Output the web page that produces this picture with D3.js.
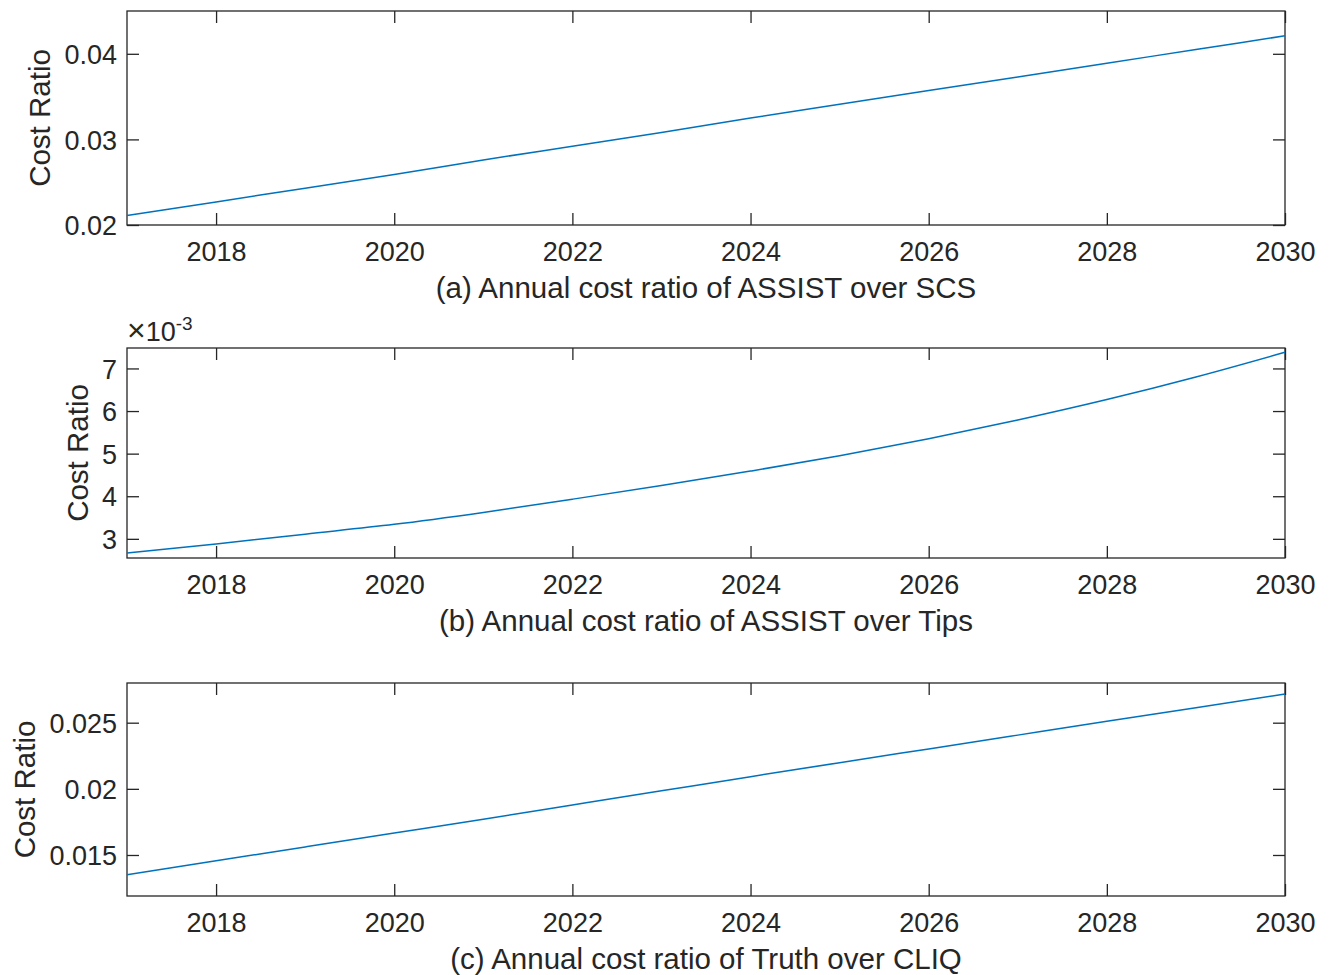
<!DOCTYPE html>
<html>
<head>
<meta charset="utf-8">
<script src="https://cdn.jsdelivr.net/npm/d3@7"></script>
<style>
  html, body { margin: 0; padding: 0; background: #fff; }
  svg { display: block; font-family: "Liberation Sans", Arial, Helvetica, sans-serif; }
</style>
</head>
<body>
<svg id="chart" width="1330" height="975"></svg>
<script>
// Years on the horizontal axis
const years = [2017, 2018, 2019, 2020, 2021, 2022, 2023, 2024, 2025, 2026, 2027, 2028, 2029, 2030];

// Annual cost ratio of ASSIST over SCS
const ratioAssistScs = [0.0211, 0.0227, 0.0243, 0.0259, 0.0276, 0.0292, 0.0308, 0.0325,
                        0.0341, 0.0357, 0.0373, 0.0389, 0.0405, 0.0421];

// Annual cost ratio of ASSIST over Tips
const ratioAssistTips = [0.00267, 0.00288, 0.00311, 0.00334, 0.00362, 0.00393, 0.00425, 0.00459,
                         0.00495, 0.00535, 0.00579, 0.00627, 0.00680, 0.00738];

// Annual cost ratio of Truth over CLIQ
const ratioTruthCliq = [0.01351, 0.01456, 0.01561, 0.01666, 0.01771, 0.01878, 0.01985, 0.02092,
                        0.02198, 0.02302, 0.02406, 0.02510, 0.02613, 0.02717];

const xTicks = [2018, 2020, 2022, 2024, 2026, 2028, 2030];
const yTicksA = [0.02, 0.03, 0.04];
const yTicksB = [0.003, 0.004, 0.005, 0.006, 0.007];
const yTicksC = [0.015, 0.02, 0.025];

const titles = [
  "(a) Annual cost ratio of ASSIST over SCS",
  "(b) Annual cost ratio of ASSIST over Tips",
  "(c) Annual cost ratio of Truth over CLIQ"
];
const yLabel = "Cost Ratio";

const panels = [
  { values: ratioAssistScs,  domain: [0.02, 0.045],     ticks: yTicksA, fmt: d => String(+d.toFixed(3)),        top: 11,  bottom: 225, exp: false },
  { values: ratioAssistTips, domain: [0.00255, 0.00748], ticks: yTicksB, fmt: d => String(Math.round(d * 1000)), top: 348, bottom: 558, exp: true },
  { values: ratioTruthCliq,  domain: [0.0119, 0.028],   ticks: yTicksC, fmt: d => String(+d.toFixed(3)),        top: 683, bottom: 896, exp: false }
];

const left = 127, right = 1285;
const axisColor = "#262626";
const lineColor = "#0072BD";
const tickLen = 12;
const tickFont = 27;
const labelFont = 29.5;

const svg = d3.select("#chart");

const x = d3.scaleLinear().domain([2017, 2030]).range([left, right]);

panels.forEach((p, i) => {
  const y = d3.scaleLinear().domain(p.domain).range([p.bottom, p.top]);
  const g = svg.append("g");

  // Bottom axis: labels outside, ticks pointing inward
  const bottomAxis = g.append("g")
    .attr("transform", `translate(0,${p.bottom})`)
    .call(d3.axisBottom(x).tickValues(xTicks).tickFormat(d3.format("d"))
      .tickSizeInner(-tickLen).tickSizeOuter(0).tickPadding(0));
  bottomAxis.selectAll("text")
    .attr("y", 36).attr("dy", null)
    .attr("font-size", tickFont).attr("fill", axisColor);

  // Top axis mirrored ticks
  g.append("g")
    .attr("transform", `translate(0,${p.top})`)
    .call(d3.axisTop(x).tickValues(xTicks).tickFormat("").tickSizeInner(-tickLen).tickSizeOuter(0));

  // Left axis with labels
  const leftAxis = g.append("g")
    .attr("transform", `translate(${left},0)`)
    .call(d3.axisLeft(y).tickValues(p.ticks).tickFormat(p.fmt)
      .tickSizeInner(-tickLen).tickSizeOuter(0).tickPadding(0));
  leftAxis.selectAll("text")
    .attr("x", -10).attr("dy", "0.36em")
    .attr("font-size", tickFont).attr("fill", axisColor);

  // Right axis mirrored ticks
  g.append("g")
    .attr("transform", `translate(${right},0)`)
    .call(d3.axisRight(y).tickValues(p.ticks).tickFormat("").tickSizeInner(-tickLen).tickSizeOuter(0));

  g.selectAll(".domain").remove();
  g.selectAll(".tick line").attr("stroke", axisColor).attr("stroke-width", 1.3);

  // Box around the plot area
  g.append("rect")
    .attr("x", left).attr("y", p.top)
    .attr("width", right - left).attr("height", p.bottom - p.top)
    .attr("fill", "none").attr("stroke", axisColor).attr("stroke-width", 1.3);

  // Data line
  const line = d3.line().x((d, j) => x(years[j])).y(d => y(d)).curve(d3.curveMonotoneX);
  g.append("path")
    .datum(p.values)
    .attr("d", line)
    .attr("fill", "none")
    .attr("stroke", lineColor)
    .attr("stroke-width", 1.5);

  // Y label placed left of the widest tick label
  let minLeft = Infinity;
  leftAxis.selectAll("text").each(function () {
    const b = this.getBBox();
    minLeft = Math.min(minLeft, left + b.x);
  });
  const cy = (p.top + p.bottom) / 2;
  const lx = minLeft - 25;
  g.append("text")
    .attr("transform", `translate(${lx},${cy}) rotate(-90)`)
    .attr("text-anchor", "middle")
    .attr("dy", "0.36em")
    .attr("font-size", labelFont)
    .attr("fill", axisColor)
    .text(yLabel);

  // Panel caption under the axis
  g.append("text")
    .attr("x", (left + right) / 2)
    .attr("y", p.bottom + 73)
    .attr("text-anchor", "middle")
    .attr("font-size", labelFont)
    .attr("fill", axisColor)
    .text(titles[i]);

  // Exponent marker above the axis
  if (p.exp) {
    const t = g.append("text")
      .attr("x", left)
      .attr("y", p.top - 7)
      .attr("font-size", tickFont)
      .attr("fill", axisColor);
    t.append("tspan").attr("font-size", 32).attr("font-weight", 300).text("\u00D7");
    t.append("tspan").text("10");
    t.append("tspan").attr("font-size", 19).attr("dy", -11).text("-3");
  }
});
</script>
</body>
</html>
